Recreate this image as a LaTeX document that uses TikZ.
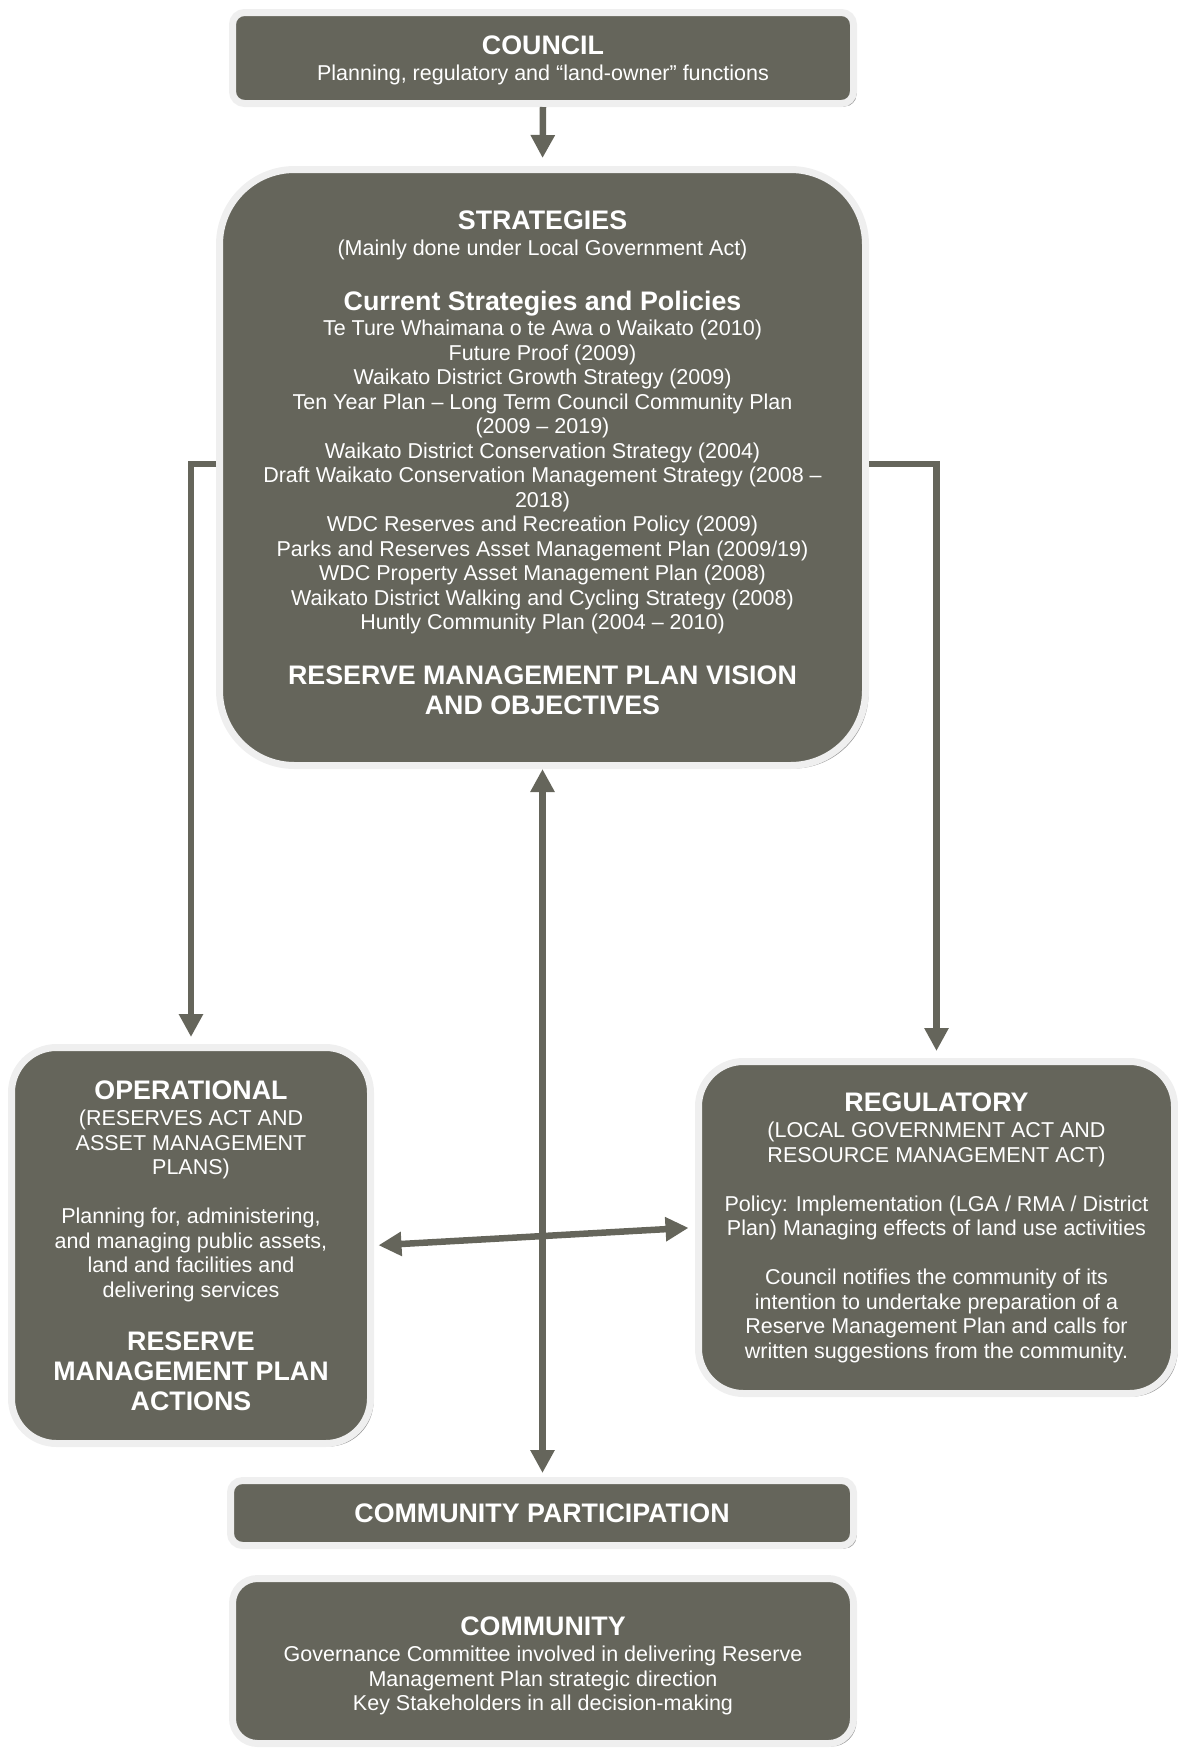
\documentclass[tikz,border=0pt]{standalone}
\usepackage{fontspec}
\setmainfont{Liberation Sans}
\usetikzlibrary{arrows.meta,shadows}
\definecolor{boxfill}{HTML}{65655B}
\definecolor{boxedge}{HTML}{EFEFEF}
\definecolor{shade}{HTML}{9A9A9A}
\newcommand\hdfont{\fontsize{26.8}{24.5}\selectfont\bfseries}
\newcommand\bdfont{\fontsize{21.5}{24.5}\selectfont}
\tikzset{
  panel/.style={fill=boxfill, draw=boxedge, line width=7pt, text=white,
    align=center, inner sep=0pt, font=\bdfont,
    drop shadow={shadow xshift=3pt, shadow yshift=-3pt, fill=shade, opacity=1}},
  conn/.style={draw=boxfill, line width=6.5pt, -{Triangle[width=23pt,length=23pt]}},
  conn2/.style={draw=boxfill, line width=6.5pt, {Triangle[width=23pt,length=23pt]}-{Triangle[width=23pt,length=23pt]}}
}
\begin{document}
\begin{tikzpicture}[x=1pt,y=-1pt]
\useasboundingbox (0,0) rectangle (1178,1749);
\node[panel, rounded corners=12pt, minimum width=621pt, minimum height=91pt] (council) at (543,58)
  {{\hdfont\rule{0pt}{24pt}COUNCIL}\\[1.5pt] Planning, regulatory and “land-owner” functions};
\node[panel, rounded corners=75pt, minimum width=646pt, minimum height=596pt] (strategies) at (542.5,467.5)
  {{\hdfont STRATEGIES}\\[1.3pt]
   (Mainly done under Local Government Act)\\[30pt]
   {\hdfont Current Strategies and Policies}\\[1.3pt]
   Te Ture Whaimana o te Awa o Waikato (2010)\\
   Future Proof (2009)\\
   Waikato District Growth Strategy (2009)\\
   Ten Year Plan – Long Term Council Community Plan\\
   (2009 – 2019)\\
   Waikato District Conservation Strategy (2004)\\
   Draft Waikato Conservation Management Strategy (2008 –\\
   2018)\\
   WDC Reserves and Recreation Policy (2009)\\
   Parks and Reserves Asset Management Plan (2009/19)\\
   WDC Property Asset Management Plan (2008)\\
   Waikato District Walking and Cycling Strategy (2008)\\
   Huntly Community Plan (2004 – 2010)\\[30pt]
   {\hdfont RESERVE MANAGEMENT PLAN VISION}\\[5.5pt]
   {\hdfont AND OBJECTIVES\rule[-9.5pt]{0pt}{0pt}}};
\node[panel, rounded corners=45pt, minimum width=359pt, minimum height=396pt] (operational) at (191,1245.5)
  {{\hdfont OPERATIONAL}\\[2pt]
   (RESERVES ACT AND\\
   ASSET MANAGEMENT\\
   PLANS)\\[24.5pt]
   Planning for, administering,\\
   and managing public assets,\\
   land and facilities and\\
   delivering services\\[28.5pt]
   {\hdfont RESERVE}\\[5.5pt]
   {\hdfont MANAGEMENT PLAN}\\[5.5pt]
   {\hdfont ACTIONS}};
\node[panel, rounded corners=45pt, minimum width=476pt, minimum height=332pt] (regulatory) at (936.5,1227.5)
  {{\hdfont REGULATORY}\\[2pt]
   (LOCAL GOVERNMENT ACT AND\\
   RESOURCE MANAGEMENT ACT)\\[24.5pt]
   Policy: Implementation (LGA / RMA / District\\
   Plan) Managing effects of land use activities\\[24.5pt]
   Council notifies the community of its\\
   intention to undertake preparation of a\\
   Reserve Management Plan and calls for\\
   written suggestions from the community.};
\node[panel, rounded corners=12pt, minimum width=623pt, minimum height=65pt] (participation) at (542,1513)
  {\hdfont COMMUNITY PARTICIPATION};
\node[panel, rounded corners=25pt, minimum width=621pt, minimum height=165pt] (community) at (543,1661)
  {{\hdfont\rule{0pt}{28.6pt}COMMUNITY}\\[1.5pt]
   Governance Committee involved in delivering Reserve\\
   Management Plan strategic direction\\
   Key Stakeholders in all decision-making};
\coordinate (sw) at ([yshift=3.5pt]strategies.west);
\coordinate (se) at ([yshift=3.5pt]strategies.east);
\draw[conn, shorten >=8pt] (council.south) -- (strategies.north);
\draw[conn, shorten >=7pt] (sw) -| (operational.north);
\draw[conn, shorten >=7pt] (se) -| (regulatory.north);
\draw[conn2, shorten >=4pt] (strategies.south) -- (strategies.south |- participation.north);
\draw[conn2, shorten <=4.5pt, shorten >=6.5pt] (operational.east) -- (regulatory.west);
\end{tikzpicture}
\end{document}
